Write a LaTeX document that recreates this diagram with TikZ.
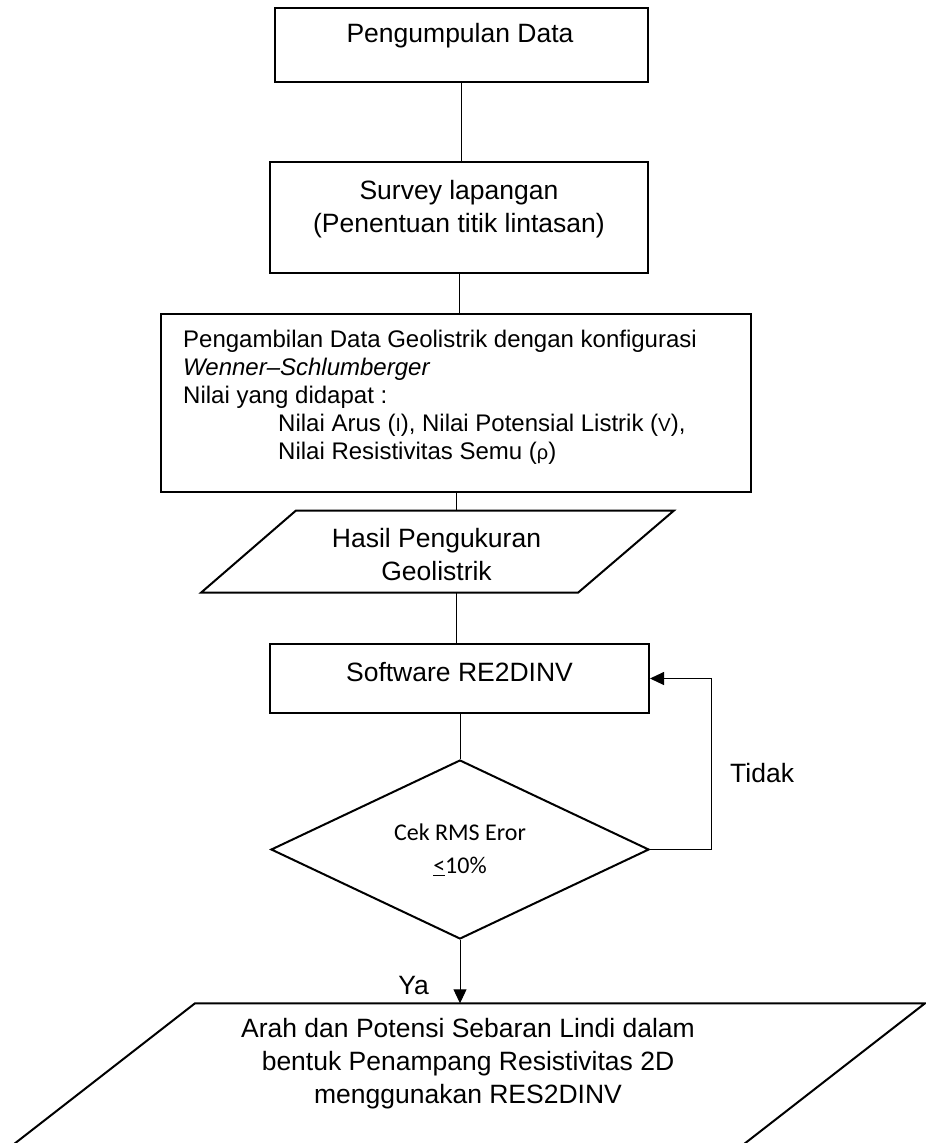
\documentclass[tikz,border=0pt]{standalone}
\usepackage{fontspec}
\setmainfont{Liberation Sans}
\newfontfamily\calibrifont{Carlito}
\usetikzlibrary{shapes.geometric,arrows.meta}
\begin{document}
\begin{tikzpicture}[x=1pt,y=-1pt,
  boxst/.style={draw, line width=2pt, inner sep=0pt},
  txt/.style={inner sep=0pt, align=center, font=\fontsize{26.5}{33}\selectfont},
  smalltxt/.style={inner sep=0pt, align=left, font=\fontsize{24}{28}\selectfont},
  link/.style={line width=1pt},
  arr/.style={line width=1pt, -{Triangle[length=14pt,width=13pt]}},
  shapeline/.style={line width=2pt, line join=miter}
]
\useasboundingbox (0,0) rectangle (926,1143);

% Box 1
\node[boxst, minimum width=373pt, minimum height=74pt] (b1) at (461.5,45) {};
\node[txt] (b1t) at (460,36) {Pengumpulan Data};

% Box 2
\node[boxst, minimum width=378pt, minimum height=111pt] (b2) at (459,217.5) {};
\node[txt] (b2t) at (459,209) {Survey lapangan\\(Penentuan titik lintasan)};

% Box 3
\node[boxst, minimum width=590pt, minimum height=178pt] (b3) at (456,403) {};
\node[smalltxt, anchor=north west] (b3t) at (183,330) {Pengambilan Data Geolistrik dengan konfigurasi\\
\textit{Wenner--Schlumberger}\\
Nilai yang didapat :\\
\hspace*{95pt}Nilai Arus ({\fontsize{19}{28}\selectfont I}), Nilai Potensial Listrik ({\fontsize{19}{28}\selectfont V}),\\
\hspace*{95pt}Nilai Resistivitas Semu ({\fontsize{20}{28}\selectfont ρ})};

% Parallelogram 1
\coordinate (p1a) at (296,510.5);
\coordinate (p1b) at (674,510.5);
\coordinate (p1c) at (578,592.7);
\coordinate (p1d) at (201,592.7);
\coordinate (p1top) at (456,510.5);
\coordinate (p1bot) at (456,592.7);
\draw[shapeline] (p1a) -- (p1b) -- (p1c) -- (p1d) -- cycle;
\node[txt] (p1t) at (436.5,555) {Hasil Pengukuran\\Geolistrik};

% Software box
\node[boxst, minimum width=379pt, minimum height=69pt] (sw) at (459.5,678.5) {};
\node[txt] (swt) at (459.5,672.5) {Software RE2DINV};

% Diamond
\node[draw, diamond, shapeline, minimum width=378pt, minimum height=179pt,
  inner sep=0pt, aspect=2.1, align=center,
  font=\calibrifont\fontsize{24}{33}\selectfont] (dia) at (460,849.5)
  {Cek RMS Eror\\\underline{<}10\%};

% Big parallelogram (runs off the bottom edge)
\coordinate (p2bl) at (-6.5,1160);
\coordinate (p2tl) at (195,1003.3);
\coordinate (p2tr) at (925,1003.3);
\coordinate (p2br) at (723.5,1160);
\coordinate (p2top) at (460,1003.3);
\draw[shapeline] (p2bl) -- (p2tl) -- (p2tr) -- (p2br);
\node[txt] (p2t) at (468,1064) {Arah dan Potensi Sebaran Lindi dalam\\bentuk Penampang Resistivitas 2D\\menggunakan RES2DINV};

% Connectors
\draw[link] (b1.south) -- (b1.south |- b2.north);
\draw[link] (b2.south) -- (b2.south |- b3.north);
\draw[link] (b3.south -| p1top) -- (p1top);
\draw[link] (p1bot) -- (p1bot |- sw.north);
\draw[link] (dia.north |- sw.south) -- (dia.north);
\draw[arr] (dia.south) -- (p2top);
\coordinate (loopx) at (711,849.5);
\draw[arr] (dia.east) -- (loopx) |- (sw.east);

% Labels
\node[txt, anchor=east] (ya) at (429,986) {Ya};
\node[txt, anchor=west] (tidak) at (730,773) {Tidak};
\end{tikzpicture}
\end{document}
